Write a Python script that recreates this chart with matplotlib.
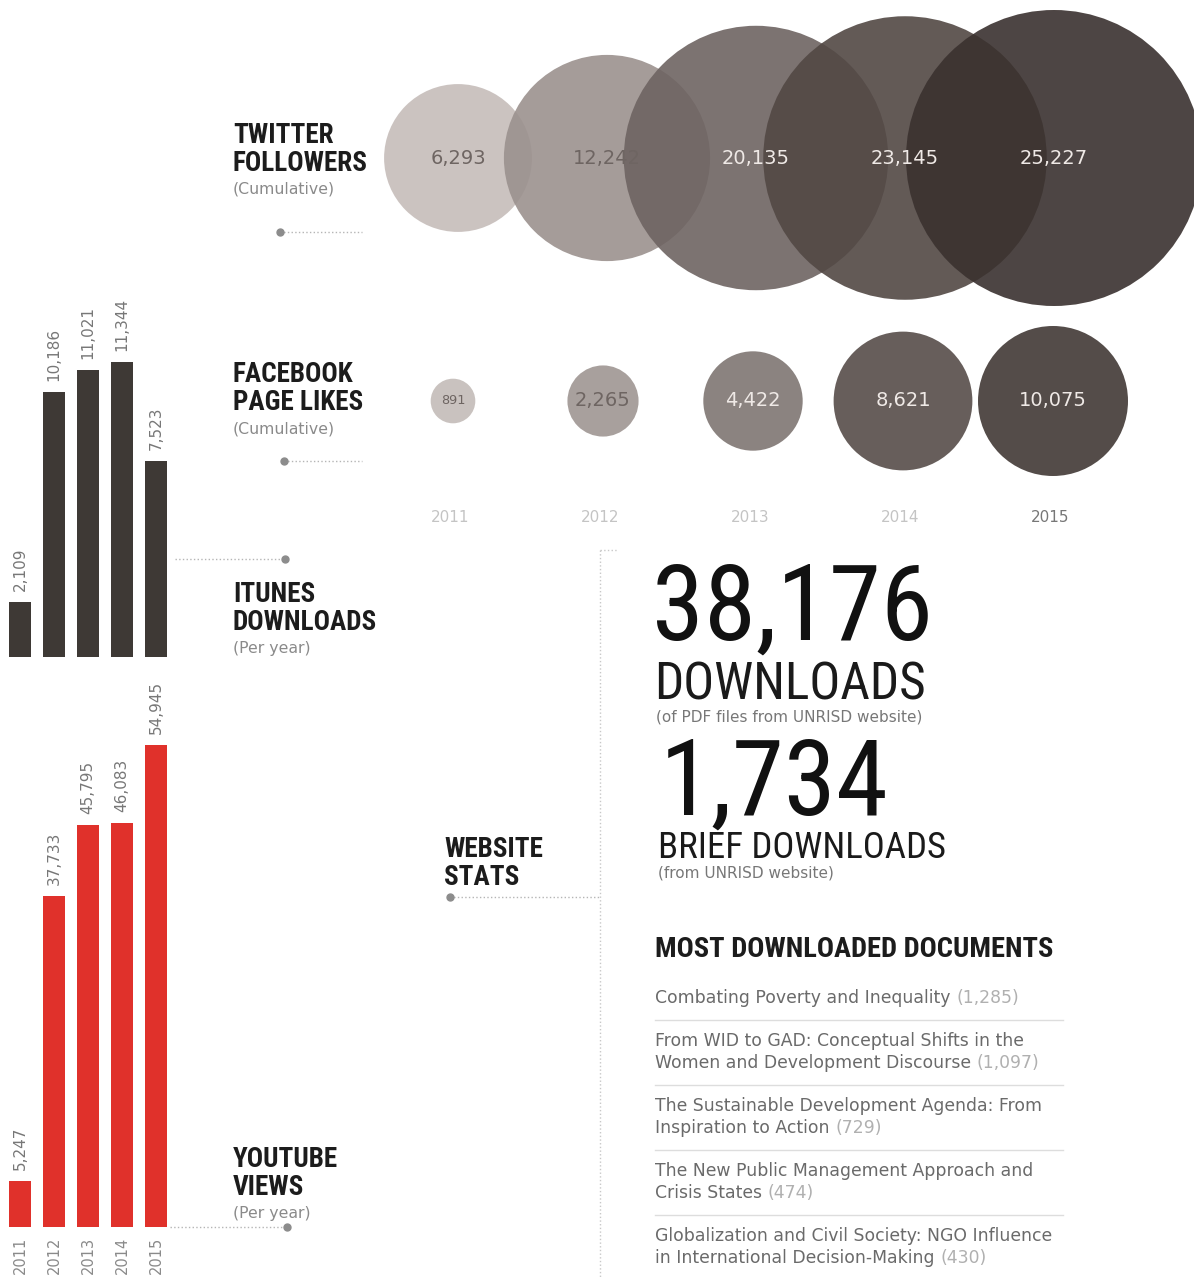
import matplotlib
matplotlib.use('Agg')
import matplotlib.pyplot as plt
from matplotlib.patches import Circle

years = [2011, 2012, 2013, 2014, 2015]
twitter_followers = [6293, 12242, 20135, 23145, 25227]
facebook_likes = [891, 2265, 4422, 8621, 10075]
itunes_downloads = [2109, 10186, 11021, 11344, 7523]
youtube_views = [5247, 37733, 45795, 46083, 54945]
pdf_downloads = 38176
brief_downloads = 1734
doc_titles = [
    ['Combating Poverty and Inequality'],
    ['From WID to GAD: Conceptual Shifts in the', 'Women and Development Discourse'],
    ['The Sustainable Development Agenda: From', 'Inspiration to Action'],
    ['The New Public Management Approach and', 'Crisis States'],
    ['Globalization and Civil Society: NGO Influence', 'in International Decision-Making'],
]
doc_counts = [1285, 1097, 729, 474, 430]

W, H = 1194, 1277
NARROW = ['Roboto Condensed', 'Liberation Sans']
plt.rcParams['font.family'] = ['DejaVu Sans']

tw_colors = ['#c6bdba', '#9b918e', '#6e6462', '#524844', '#3a312f']
fb_colors = ['#c9c2bf', '#a8a09d', '#8b8380', '#675e5b', '#544c49']
dark_txt = '#6e6562'
light_txt = '#efe9e6'
bar_dark = '#3e3935'
bar_red = '#e0312b'
grey_line = '#b5b5b5'

fig = plt.figure(figsize=(W / 100, H / 100), dpi=100)
ax = fig.add_axes([0, 0, 1, 1])
ax.set_xlim(0, W)
ax.set_ylim(H, 0)
ax.set_aspect('equal')
ax.axis('off')


def px_axes(x0, y0, x1, y1):
    return fig.add_axes([x0 / W, 1 - y1 / H, (x1 - x0) / W, (y1 - y0) / H])


def header(x, y, lines, sub):
    for i, ln in enumerate(lines):
        ax.text(x, y + i * 28, ln, family=NARROW, fontweight='bold', fontsize=19.5,
                color='#1c1c1c', va='baseline')
    ax.text(x, y + len(lines) * 28 - 5, sub, fontsize=11.3, color='#8a8a8a', va='baseline')


def connector(x0, x1, y, dot_x):
    ax.plot([x0, x1], [y, y], ls=':', lw=1, color=grey_line)
    ax.plot(dot_x, y, 'o', ms=5, color='#8c8c8c')


# ---- bubbles ----
k_tw = 148 / 25227 ** 0.5
k_fb = 75 / 10075 ** 0.5
for i, v in enumerate(twitter_followers):
    cx = 458 + 149 * i
    r = k_tw * v ** 0.5
    ax.add_patch(Circle((cx, 158), r, color=tw_colors[i], alpha=0.9, lw=0, zorder=2 + i))
    ax.text(cx, 158, f'{v:,}', ha='center', va='center', fontsize=14,
            color=dark_txt if i < 2 else light_txt, zorder=10)

for i, v in enumerate(facebook_likes):
    cx = 453 + 150 * i
    r = k_fb * v ** 0.5
    ax.add_patch(Circle((cx, 401), r, color=fb_colors[i], lw=0, zorder=2))
    ax.text(cx, 401, f'{v:,}', ha='center', va='center', fontsize=min(14, r / 2.4),
            color=dark_txt if i < 2 else light_txt, zorder=3)

for i, yr in enumerate(years):
    ax.text(450 + 150 * i, 517, str(yr), ha='center', va='center', fontsize=11,
            color='#777777' if i == 4 else '#c4c4c4')

# ---- headers and connectors ----
header(233, 143, ['TWITTER', 'FOLLOWERS'], '(Cumulative)')
connector(280, 362, 232, 280)
header(233, 382, ['FACEBOOK', 'PAGE LIKES'], '(Cumulative)')
connector(284, 362, 461, 284)
header(233, 602, ['ITUNES', 'DOWNLOADS'], '(Per year)')
connector(175, 285, 559, 285)
header(233, 1167, ['YOUTUBE', 'VIEWS'], '(Per year)')
connector(170, 287, 1227, 287)
header(444, 857, ['WEBSITE', 'STATS'], '')
connector(450, 600, 897, 450)
ax.plot([600, 600], [550, H], ls=':', lw=1, color='#c8c8c8')
ax.plot([600, 618], [550, 550], ls=':', lw=1, color='#c8c8c8')

# ---- bar charts ----
pos = list(range(len(years)))
ax_it = px_axes(0, 150, 175, 657)
ax_it.bar(pos, itunes_downloads, width=0.64, color=bar_dark)
ax_it.set_ylim(0, 507 / 0.026)
for i, v in enumerate(itunes_downloads):
    ax_it.annotate(f'{v:,}', (i, v), xytext=(0, 8), textcoords='offset points',
                   rotation=90, ha='center', va='bottom', fontsize=11, color='#777777')

ax_yt = px_axes(0, 660, 175, 1227)
ax_yt.bar(pos, youtube_views, width=0.64, color=bar_red)
ax_yt.set_ylim(0, 567 / 0.00877)
for i, v in enumerate(youtube_views):
    ax_yt.annotate(f'{v:,}', (i, v), xytext=(0, 8), textcoords='offset points',
                   rotation=90, ha='center', va='bottom', fontsize=11, color='#777777')
    ax_yt.annotate(str(years[i]), (i, 0), xytext=(0, -7), textcoords='offset points',
                   rotation=90, ha='center', va='top', fontsize=10.5, color='#8a8a8a',
                   annotation_clip=False)

for a in (ax_it, ax_yt):
    a.set_xlim(-0.59, 4.56)
    a.axis('off')

# ---- website stats ----
ax.text(652, 640, f'{pdf_downloads:,}', family=NARROW, fontsize=76, color='#111111', va='baseline')
ax.text(654, 700, 'DOWNLOADS', family=NARROW, fontsize=37, color='#1a1a1a', va='baseline')
ax.text(656, 721, '(of PDF files from UNRISD website)', fontsize=11, color='#777777', va='baseline')
ax.text(660, 815, f'{brief_downloads:,}', family=NARROW, fontsize=76, color='#111111', va='baseline')
ax.text(658, 858, 'BRIEF DOWNLOADS', family=NARROW, fontsize=26.5, color='#1a1a1a', va='baseline')
ax.text(658, 878, '(from UNRISD website)', fontsize=11, color='#777777', va='baseline')

ax.text(655, 957, 'MOST DOWNLOADED DOCUMENTS', family=NARROW, fontweight='bold', fontsize=20.5,
        color='#1c1c1c', va='baseline')

y = 1003
for i, (lines, cnt) in enumerate(zip(doc_titles, doc_counts)):
    for j, ln in enumerate(lines):
        t = ax.text(655, y + 22 * j, ln, fontsize=12.4, color='#6a6a6a', va='baseline')
    ax.annotate(f'({cnt:,})', xy=(1, 0), xycoords=t, xytext=(4, 0), textcoords='offset points',
                ha='left', va='bottom', fontsize=12.4, color='#b0b0b0')
    last = y + 22 * (len(lines) - 1)
    if i < len(doc_titles) - 1:
        ax.plot([655, 1063], [last + 17, last + 17], lw=1, color='#dddddd')
    y = last + 43

fig.savefig('out.png', dpi=100)
